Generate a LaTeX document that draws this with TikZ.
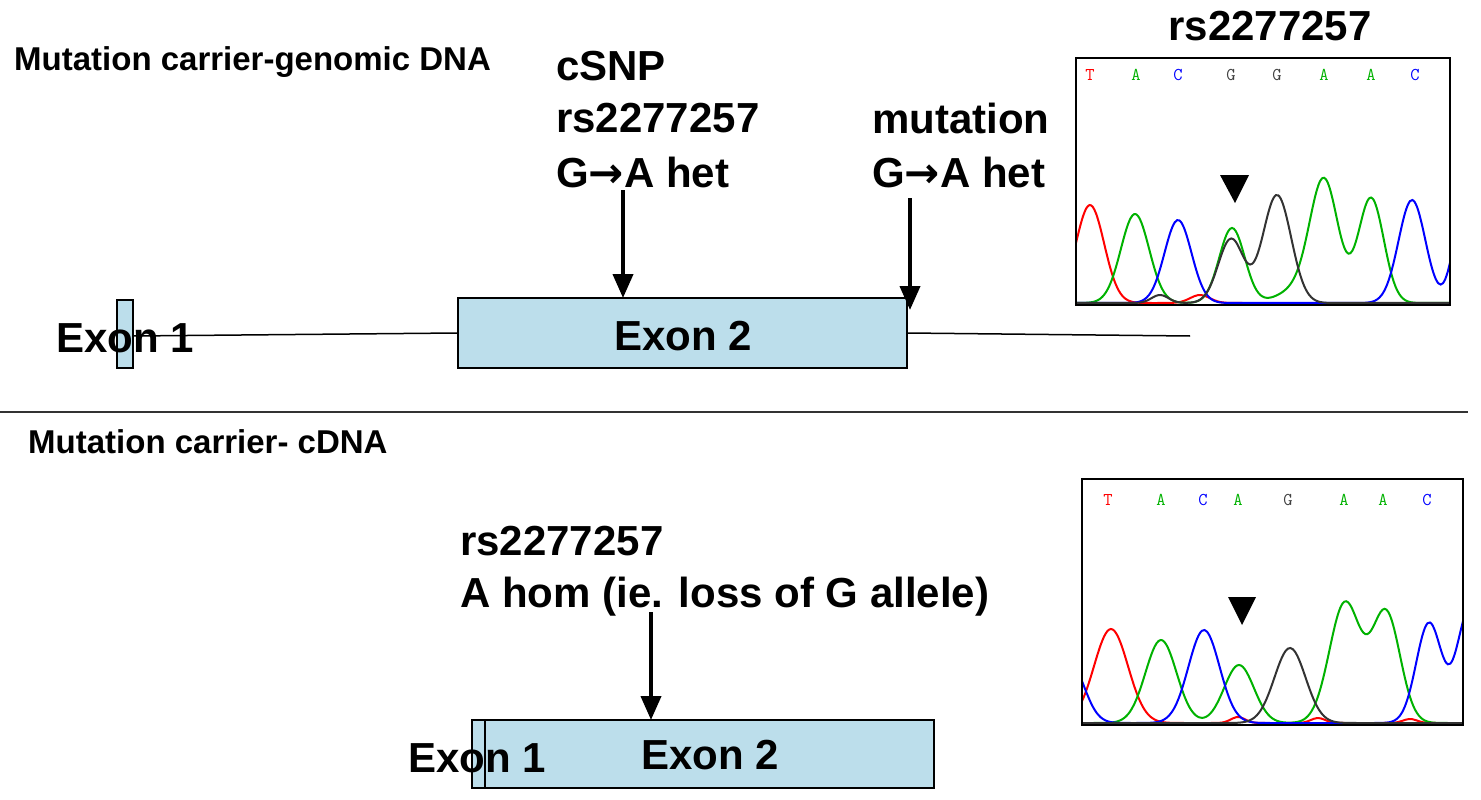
\documentclass[tikz,border=0pt]{standalone}
\usepackage{fontspec}
\setmainfont{Liberation Sans}
\newfontfamily\symf{DejaVu Sans}
\begin{document}
\begin{tikzpicture}[x=1pt,y=-1pt,
  big/.style={font=\fontsize{42}{48}\selectfont\bfseries,inner sep=0pt,anchor=west},
  ttl/.style={font=\fontsize{33}{38}\selectfont\bfseries,inner sep=0pt,anchor=west},
  exon/.style={draw=black,fill=cyan!25!white!85!gray,line width=1.2pt},
  arr/.style={line width=4pt,-{Triangle[length=24pt,width=20pt]}},
  base/.style={font=\fontsize{18}{20}\selectfont\ttfamily,inner sep=0pt},
  tr/.style={line width=2pt,smooth}]
\usetikzlibrary{arrows.meta}
\useasboundingbox (0,0) rectangle (1481,800);
\fill[white] (0,0) rectangle (1481,800);
\pgfmathdeclarefunction{g}{4}{\pgfmathparse{#4*exp(-((#1-#2)/#3)^2)}}
% top
\node[ttl] (t1) at (14,62) {Mutation carrier-genomic DNA};
\node[big] (c1) at (556,66) {cSNP};
\node[big] (c2) at (556,118) {rs2277257};
\node[big] (c3) at (556,172) {G{\symf\bfseries→}A het};
\node[big] (m1) at (872,118) {mutation};
\node[big] (m2) at (872,172) {G{\symf\bfseries→}A het};
\node[big,anchor=center] (rs1) at (1270,26) {rs2277257};
\coordinate (lend) at (1190,336);
\node[exon,minimum width=449pt,minimum height=70pt,inner sep=0pt] (e2) at (682.5,333) {};
\node[font=\fontsize{42}{48}\selectfont\bfseries] at (683,336) {Exon 2};
\draw[line width=1.5pt] (133,336) -- (e2.west);
\draw[line width=1.5pt] (e2.east) -- (lend);
\node[exon,minimum width=16pt,minimum height=68pt,inner sep=0pt] (e1) at (125,334) {};
\node[font=\fontsize{42}{48}\selectfont\bfseries] (e1t) at (125,338) {Exon 1};
\coordinate (a1e) at (623,298);
\coordinate (a2e) at (910,310);
\draw[arr] (623,190) -- (a1e);
\draw[arr] (910,198) -- (a2e);
\draw[black!80,line width=1.5pt] (0,412) -- (1468,412);
% chromatogram 1
\begin{scope}
\clip (1076,58) rectangle (1450,305);
\draw[red,tr] plot[domain=1060:1450,samples=120] (\x,{303-g(\x,1090,20,98)-g(\x,1200,14,8)});
\draw[green!70!black,tr] plot[domain=1076:1450,samples=200] (\x,{303-g(\x,1135,20,89)-g(\x,1232,18,75)-g(\x,1324,20,122)-g(\x,1371,18,105)-g(\x,1295,25,12)});
\draw[blue,tr] plot[domain=1076:1450,samples=160] (\x,{303-g(\x,1178,19,83)-g(\x,1412,19,103)-g(\x,1462,14,80)});
\draw[black!80,tr] plot[domain=1076:1450,samples=160] (\x,{303-g(\x,1231,18,64)-g(\x,1277,20,108)-g(\x,1160,12,8)});
\end{scope}
\node[draw=black,line width=1.5pt,minimum width=374pt,minimum height=247pt,inner sep=0pt] (ch1) at (1263,181.5) {};
\foreach \l/\xx/\c in {T/1090/red,A/1136/green!70!black,C/1178/blue,G/1231/black!75,G/1277/black!75,A/1324/green!70!black,A/1371/green!70!black,C/1415/blue}
  \node[base,text=\c] at (\xx,75) {\l};
\fill (1220,175) -- (1249,175) -- (1235,203) -- cycle;
% bottom
\node[ttl] (t2) at (28,442) {Mutation carrier- cDNA};
\node[big] (r1) at (460,541) {rs2277257};
\node[big] (r2) at (460,597) {A hom (ie. loss of G allele)};
\node[exon,minimum width=449pt,minimum height=68pt,inner sep=0pt] (f2) at (709.5,754) {};
\node[font=\fontsize{42}{48}\selectfont\bfseries] at (710,755) {Exon 2};
\node[exon,minimum width=13pt,minimum height=68pt,inner sep=0pt] (f1) at (478.5,754) {};
\node[font=\fontsize{42}{48}\selectfont\bfseries] at (477,758) {Exon 1};
\coordinate (a3e) at (651,720);
\draw[arr] (651,612) -- (a3e);
\begin{scope}
\clip (1082,479) rectangle (1463,725);
\draw[red,tr] plot[domain=1060:1463,samples=120] (\x,{723-g(\x,1111,24,94)-g(\x,1238,10,6)-g(\x,1318,10,5)-g(\x,1410,10,4)});
\draw[green!70!black,tr] plot[domain=1082:1463,samples=200] (\x,{723-g(\x,1161,22,83)-g(\x,1239,21,58)-g(\x,1345,22,120)-g(\x,1386,20,110)});
\draw[blue,tr] plot[domain=1060:1463,samples=160] (\x,{723-g(\x,1204,22,93)-g(\x,1429,18,100)-g(\x,1470,18,115)-g(\x,1070,20,60)});
\draw[black!80,tr] plot[domain=1082:1463,samples=160] (\x,{723-g(\x,1290,22,75)});
\end{scope}
\node[draw=black,line width=1.5pt,minimum width=381pt,minimum height=246pt,inner sep=0pt] (ch2) at (1272.5,602) {};
\foreach \l/\xx/\c in {T/1108/red,A/1161/green!70!black,C/1203/blue,A/1238/green!70!black,G/1288/black!75,A/1344/green!70!black,A/1383/green!70!black,C/1427/blue}
  \node[base,text=\c] at (\xx,500) {\l};
\fill (1228,597) -- (1256,597) -- (1242,625) -- cycle;
\end{tikzpicture}
\end{document}
